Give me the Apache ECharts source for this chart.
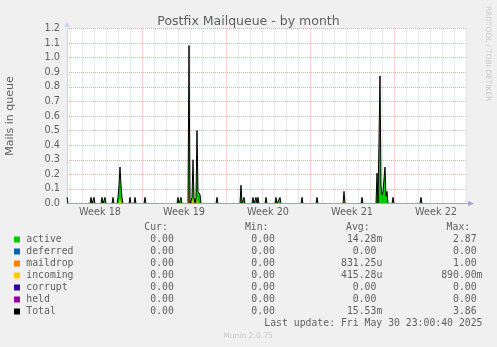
<!DOCTYPE html>
<html><head><meta charset="utf-8">
<script src="https://cdn.jsdelivr.net/npm/echarts@6/dist/echarts.min.js"></script>
<style>html,body{margin:0;padding:0;background:#F0F0F0;}#c{width:497px;height:347px;}</style>
</head><body><div id="c"></div>
<script>
// x values: hours since Sun Apr 27 2025 00:00
const xMin = 18, xMax = 818;
const weekLabels = ['Week 18','Week 19','Week 20','Week 21','Week 22'];
const weekLabelHours = [84, 252, 420, 588, 756];
const yMax = 1.2, yStep = 0.1;

const total = [[18,0.042],[20,0],[64,0],[66,0.042],[68,0],[70,0],[72,0.042],[74,0],[86,0],[88,0.042],[90,0],[92,0],[94,0.042],[96,0],[108,0],[110,0.042],[112,0],[118,0],[120,0.042],[122,0.125],[124,0.25],[126,0.125],[128,0.042],[130,0],[142,0],[144,0.042],[146,0],[152,0],[154,0.042],[156,0],[172,0],[174,0.042],[176,0],[238,0],[240,0.042],[242,0],[244,0],[246,0.042],[248,0],[260,0],[262,1.083],[264,0],[266,0],[268,0.042],[270,0.30],[272,0.042],[274,0],[276,0.042],[278,0.50],[280,0.083],[282,0.07],[284,0.06],[286,0],[316,0],[318,0.042],[320,0],[364,0],[366,0.125],[368,0],[370,0],[372,0.042],[374,0],[388,0],[390,0.042],[392,0],[394,0],[396,0.042],[398,0],[400,0.042],[402,0],[414,0],[416,0.042],[418,0],[434,0],[436,0.042],[438,0],[442,0],[444,0.042],[446,0],[486,0],[488,0.042],[490,0],[516,0],[518,0.042],[520,0],[570,0],[572,0.083],[574,0],[606,0],[608,0.042],[610,0],[636,0],[638,0.208],[640,0],[642,0],[644,0.875],[646,0.12],[648,0.06],[650,0.08],[652,0.17],[654,0.25],[656,0.05],[658,0.083],[660,0],[668,0],[670,0.042],[672,0],[724,0],[726,0.042],[728,0],[818,0]];
const active = [[18,0.042],[20,0],[64,0],[66,0.042],[68,0],[70,0],[72,0.042],[74,0],[86,0],[88,0.042],[90,0],[92,0],[94,0.042],[96,0],[108,0],[110,0.042],[112,0],[118,0],[120,0.042],[122,0.125],[124,0.208],[126,0.125],[128,0.042],[130,0],[142,0],[144,0.042],[146,0],[152,0],[154,0.042],[156,0],[172,0],[174,0.042],[176,0],[238,0],[240,0.042],[242,0],[244,0],[246,0.042],[248,0],[260,0],[262,0.958],[264,0],[266,0],[268,0.042],[270,0.258],[272,0.042],[274,0],[276,0.042],[278,0.458],[280,0.083],[282,0.07],[284,0.06],[286,0],[316,0],[318,0.042],[320,0],[364,0],[366,0.125],[368,0],[370,0],[372,0.042],[374,0],[388,0],[390,0.042],[392,0],[394,0],[396,0.042],[398,0],[400,0.042],[402,0],[414,0],[416,0.042],[418,0],[434,0],[436,0.042],[438,0],[442,0],[444,0.042],[446,0],[486,0],[488,0.042],[490,0],[516,0],[518,0.042],[520,0],[570,0],[572,0.042],[574,0],[606,0],[608,0.042],[610,0],[636,0],[638,0.208],[640,0],[642,0],[644,0.875],[646,0.12],[648,0.06],[650,0.08],[652,0.17],[654,0.25],[656,0.05],[658,0.083],[660,0],[668,0],[670,0.042],[672,0],[724,0],[726,0.042],[728,0],[818,0]];
const maildrop = [[18,0],[260,0],[262,0.125],[264,0],[276,0],[278,0.042],[280,0],[570,0],[572,0.042],[574,0],[818,0]];
const incoming = [[18,0],[122,0],[124,0.042],[126,0],[268,0],[270,0.042],[272,0],[818,0]];

const legendNames = ['active','deferred','maildrop','incoming','corrupt','held','Total'];
const legendColors = ['#00CC00','#0066B3','#FF8000','#FFCC00','#330099','#990099','#000000'];
const curVals = ['0.00 ','0.00 ','0.00 ','0.00 ','0.00 ','0.00 ','0.00 '];
const minVals = ['0.00 ','0.00 ','0.00 ','0.00 ','0.00 ','0.00 ','0.00 '];
const avgVals = ['14.28m','0.00 ','831.25u','415.28u','0.00 ','0.00 ','15.53m'];
const maxVals = ['2.87 ','0.00 ','1.00 ','890.00m','0.00 ','0.00 ','3.86 '];
const colHeaders = ['Cur:','Min:','Avg:','Max:'];
const lastUpdate = 'Last update: Fri May 30 23:00:40 2025';

const gridLines = [];
for (let h = Math.ceil(xMin/24)*24; h <= xMax; h += 24) gridLines.push([h, 0]);

const FC = '#5f5f5f';
const MONO = "9.8px 'DejaVu Sans Mono'";
const graphics = [];
const hdrX = [144.3, 244.9, 346.0, 446.6];
colHeaders.forEach((t,i)=>graphics.push({type:'text', style:{text:t, x:hdrX[i], y:227.5, font:MONO, fill:FC, align:'left', verticalAlign:'middle'}}));
const colRight = [179.8, 280.8, 382.3, 482.5];
legendNames.forEach((n,i)=>{
  const y = 239.5 + 12*i;
  graphics.push({type:'rect', shape:{x:14, y:y-3, width:6, height:6}, style:{fill:legendColors[i]}});
  graphics.push({type:'text', style:{text:n, x:26.3, y:y, font:MONO, fill:FC, align:'left', verticalAlign:'middle'}});
  [curVals, minVals, avgVals, maxVals].forEach((arr,k)=>{
    graphics.push({type:'text', style:{text:arr[i], x:colRight[k], y:y, font:MONO, fill:FC, align:'right', verticalAlign:'middle'}});
  });
});
graphics.push({type:'text', style:{text:lastUpdate, x:482.5, y:323.5, font:MONO, fill:FC, align:'right', verticalAlign:'middle'}});
graphics.push({type:'text', style:{text:'Munin 2.0.75', x:248, y:336, font:"7.6px 'DejaVu Sans'", fill:'#cacaca', align:'center', verticalAlign:'middle'}});
graphics.push({type:'text', x:488, y:53.5, rotation:-Math.PI/2, style:{text:'RRDTOOL / TOBI OETIKER', x:0, y:0, font:"7.4px 'DejaVu Sans'", fill:'#cacaca', align:'center', verticalAlign:'middle'}});

const chart = echarts.init(document.getElementById('c'), null, {renderer:'canvas'});
chart.setOption({
  animation:false,
  backgroundColor:'#F0F0F0',
  title:{text:'Postfix Mailqueue - by month', left:'center', top:10.5,
    textStyle:{fontFamily:'DejaVu Sans', fontSize:12.5, fontWeight:'normal', color:FC}},
  grid:{left:67, top:28.5, width:400, height:175, show:true, backgroundColor:'#FFFFFF', borderWidth:0, outerBoundsMode:'none', containLabel:false},
  xAxis:{type:'value', min:xMin, max:xMax, z:5,
    axisLine:{show:true, lineStyle:{color:'#9fa0d2', width:1}, symbol:['none','triangle'], symbolSize:[5,6], symbolOffset:[0,4]},
    axisTick:{show:false}, splitLine:{show:false},
    axisLabel:{customValues:weekLabelHours, formatter:v=>weekLabels[weekLabelHours.indexOf(v)],
      fontFamily:'DejaVu Sans', fontSize:9.7, color:FC, margin:4}},
  yAxis:{type:'value', min:0, max:yMax, interval:yStep,
    name:'Mails in queue', nameLocation:'middle', nameRotate:90, nameGap:51,
    nameTextStyle:{fontFamily:'DejaVu Sans', fontSize:11, color:FC},
    axisLine:{show:true, lineStyle:{color:'#CCD2F6', width:1}, symbol:['none','triangle'], symbolSize:[6,5], symbolOffset:[0,4]},
    axisTick:{show:false},
    axisLabel:{formatter:v=>v.toFixed(1), fontFamily:'DejaVu Sans', fontSize:9.7, color:FC, margin:7},
    splitLine:{show:true, lineStyle:{color:'rgba(240,110,110,0.6)', width:1, type:[1,1]}}},
  graphic:graphics,
  series:[
    {type:'custom', z:1, silent:true, data:gridLines, encode:{x:0,y:1},
      renderItem:(params, api)=>{
        const h = api.value(0);
        const p1 = api.coord([h,0]); const p2 = api.coord([h,yMax]);
        const x = Math.round(p1[0]) + 0.5;
        return {type:'line', shape:{x1:x, y1:p1[1], x2:x, y2:p2[1]},
          style:{stroke: h % 168 === 0 ? 'rgba(240,110,110,0.6)' : 'rgba(150,150,150,0.45)', lineWidth:1, lineDash:[1,1]}};
      }},
    {name:'active', type:'line', z:2, data:active, showSymbol:false, lineStyle:{width:0}, areaStyle:{color:'#00CC00', opacity:1}, color:'#00CC00'},
    {name:'maildrop', type:'line', z:2, data:maildrop, showSymbol:false, lineStyle:{width:0}, areaStyle:{color:'#FF8000', opacity:1}, color:'#FF8000'},
    {name:'incoming', type:'line', z:2, data:incoming, showSymbol:false, lineStyle:{width:0}, areaStyle:{color:'#FFCC00', opacity:1}, color:'#FFCC00'},
    {name:'Total', type:'line', z:3, data:total, showSymbol:false, lineStyle:{width:1, color:'#000000'}, color:'#000000'}
  ]
});
</script></body></html>
